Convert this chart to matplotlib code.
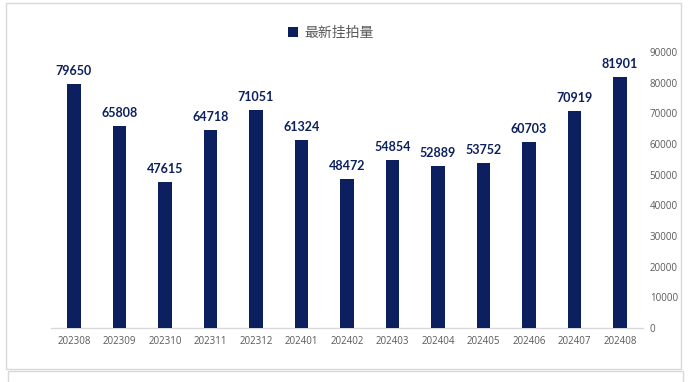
import matplotlib
matplotlib.use("Agg")
import matplotlib.pyplot as plt
from matplotlib.patches import Rectangle

months = ["202308", "202309", "202310", "202311", "202312", "202401", "202402",
          "202403", "202404", "202405", "202406", "202407", "202408"]
values = [79650, 65808, 47615, 64718, 71051, 61324, 48472,
          54854, 52889, 53752, 60703, 70919, 81901]
series_name = "最新挂拍量"
y_ticks = [0, 10000, 20000, 30000, 40000, 50000, 60000, 70000, 80000, 90000]

W, H = 698, 382
navy = "#0C1F5E"
gray = "#595959"

fig = plt.figure(figsize=(W / 100, H / 100), dpi=100)
fig.patch.set_facecolor("white")

# outer chart frame and lower frame
fig.add_artist(Rectangle((6 / W, 1 - 369 / H), 675 / W, 366 / H, transform=fig.transFigure,
                         fill=False, edgecolor="#D9D9D9", linewidth=1.0))
fig.add_artist(Rectangle((8 / W, -0.05), 675 / W, 0.05 + 1 - 371 / H, transform=fig.transFigure,
                         fill=False, edgecolor="#D9D9D9", linewidth=1.0))

ax = fig.add_axes([51.25 / W, 1 - 328 / H, 591.5 / W, 276 / H])
x = list(range(len(months)))
bars = ax.bar(x, values, width=0.29, color=navy, label=series_name, zorder=3)
ax.set_xlim(-0.5, len(months) - 0.5)
ax.set_ylim(0, 90000)

for xi, v in zip(x, values):
    ax.annotate(f"{v}", (xi, v), xytext=(0, 5), textcoords="offset points",
                ha="center", va="bottom", fontsize=9, fontweight="bold",
                color=navy, family=["Lato", "DejaVu Sans"])

ax.yaxis.tick_right()
ax.set_yticks(y_ticks)
ax.set_yticklabels([str(t) for t in y_ticks])
ax.set_xticks(x)
ax.set_xticklabels(months)
ax.tick_params(axis="both", length=0, labelsize=7, labelcolor=gray)
ax.tick_params(axis="y", pad=5)
ax.tick_params(axis="x", pad=6)
for lab in ax.get_xticklabels() + ax.get_yticklabels():
    lab.set_family(["Open Sans", "DejaVu Sans"])

for s in ["top", "left", "right"]:
    ax.spines[s].set_visible(False)
ax.spines["bottom"].set_color("#D9D9D9")
ax.spines["bottom"].set_linewidth(1.0)

leg = fig.legend(handles=[bars], labels=[series_name], loc="center",
                 bbox_to_anchor=(331 / W, 1 - 33 / H), frameon=False,
                 prop={"family": ["Noto Sans CJK SC", "DejaVu Sans"], "size": 10},
                 handlelength=0.7, handleheight=0.7, handletextpad=0.5)
for t in leg.get_texts():
    t.set_color(gray)

fig.savefig("out.png", dpi=100)
